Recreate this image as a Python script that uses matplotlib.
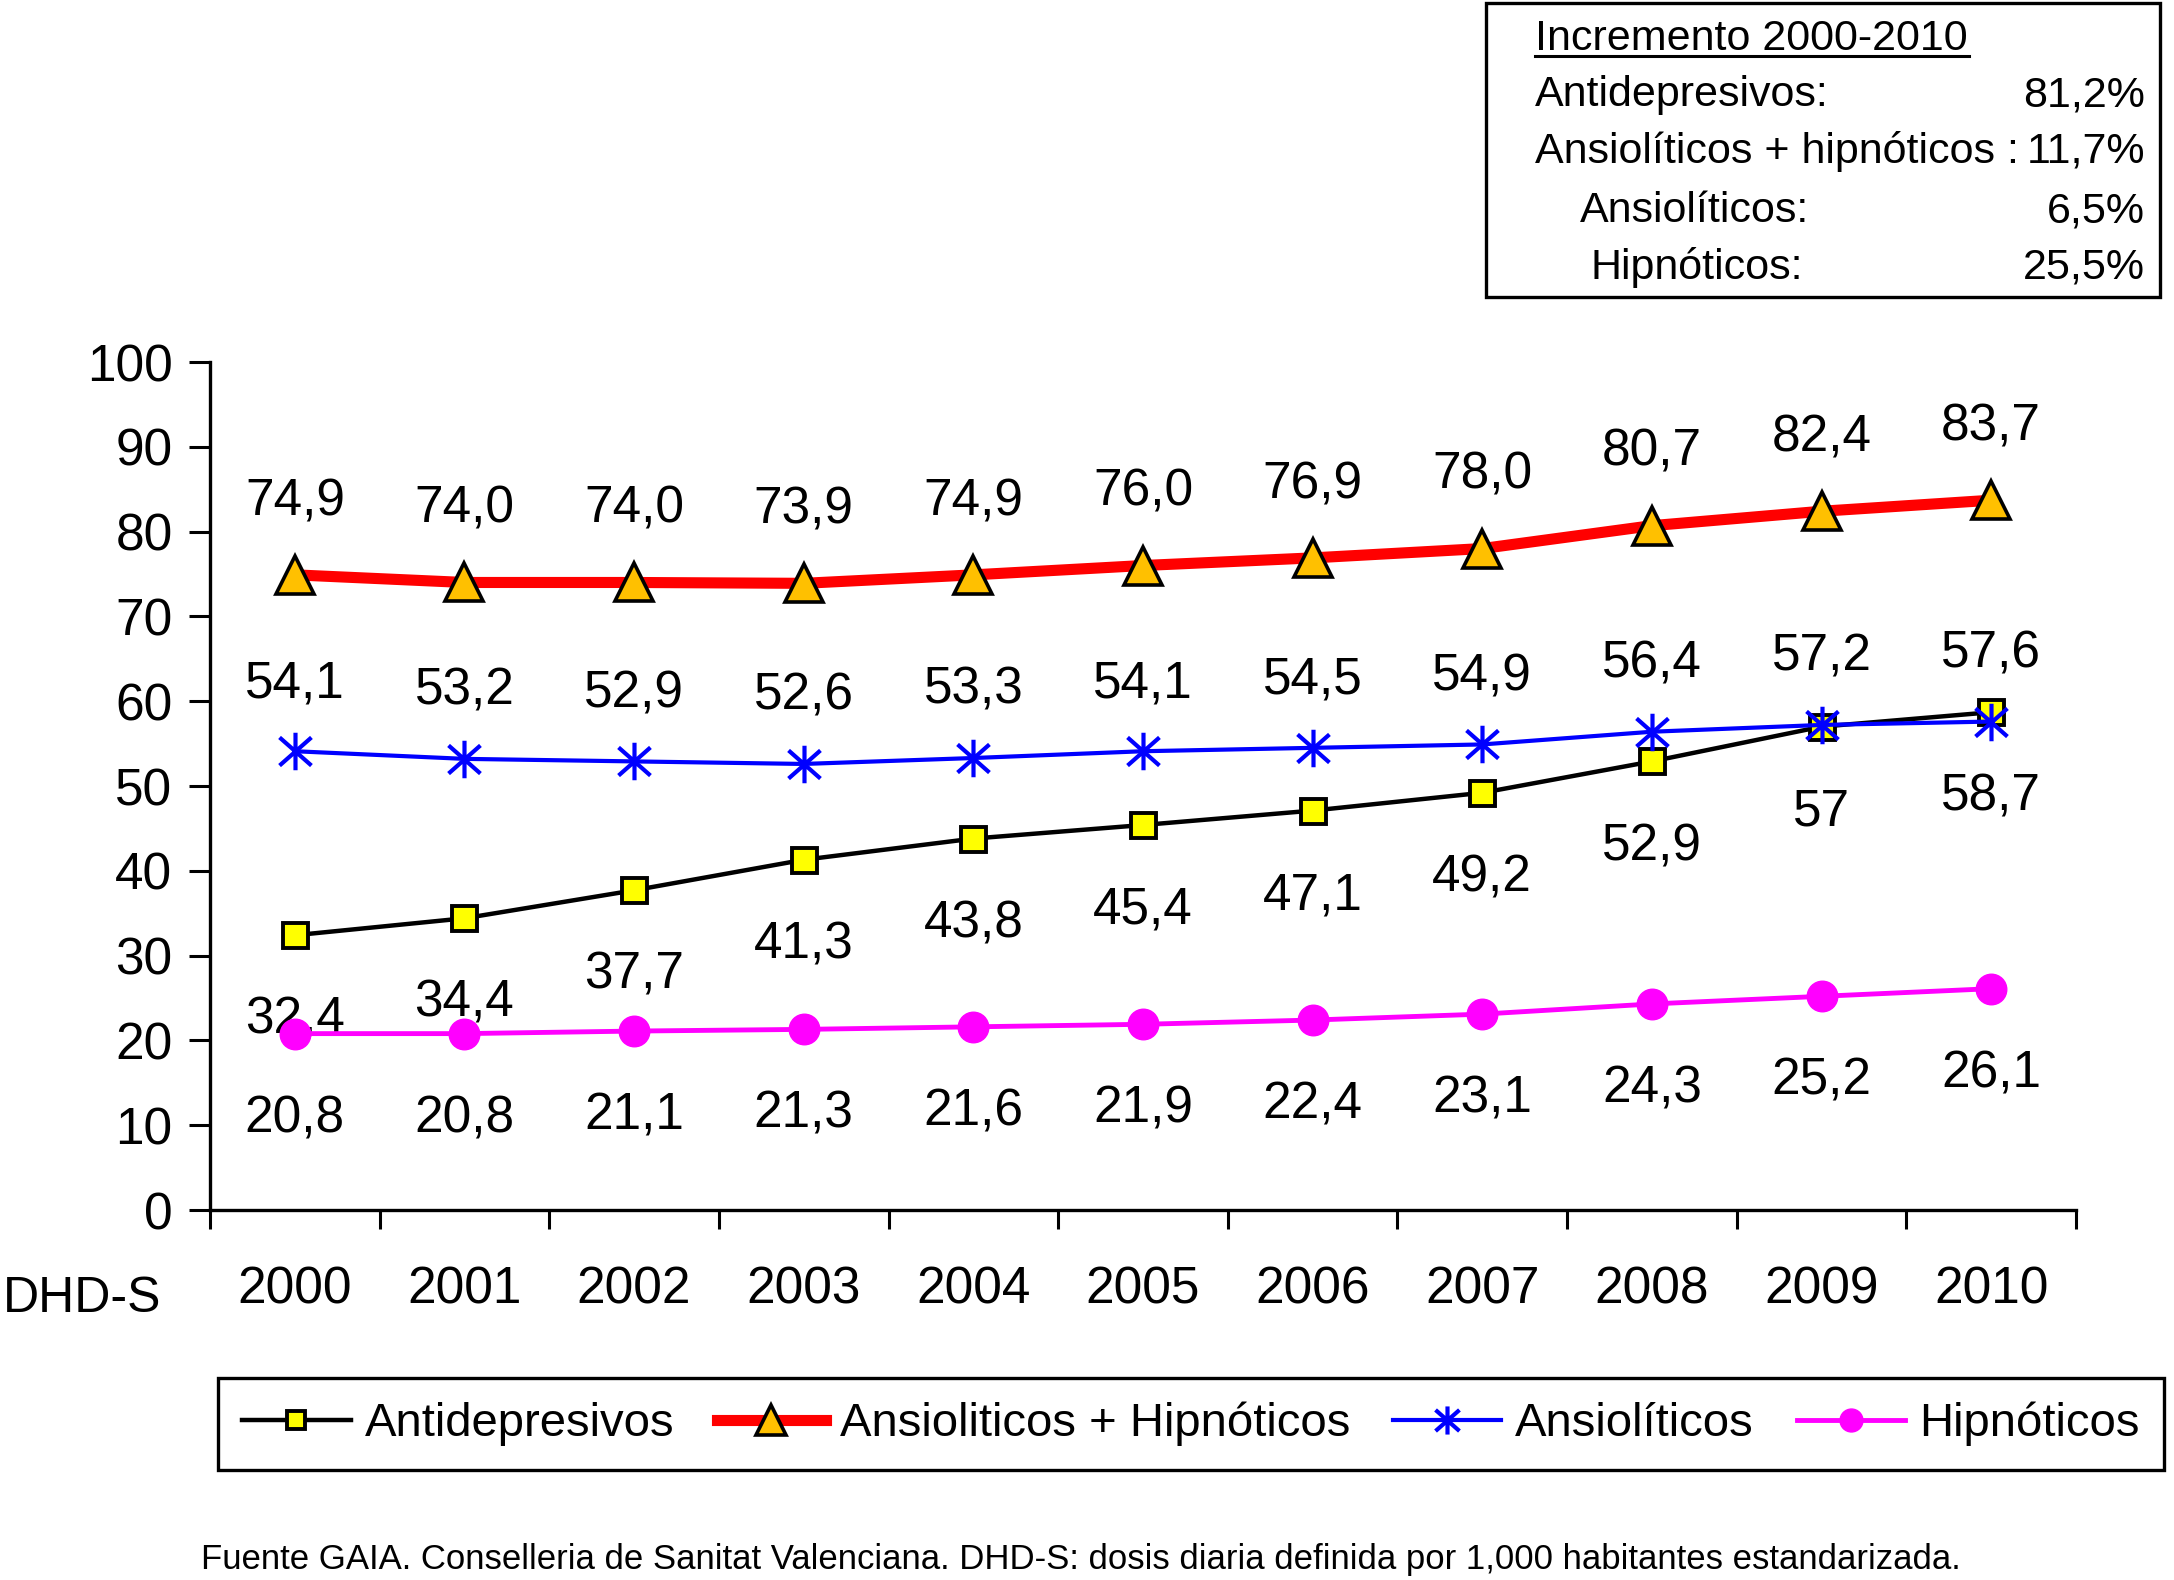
import numpy as np
import matplotlib
matplotlib.use("Agg")
import matplotlib.pyplot as plt
from matplotlib.path import Path
from matplotlib.patches import Rectangle
from matplotlib.lines import Line2D

plt.rcParams['font.family'] = ['Liberation Sans', 'DejaVu Sans']

years = ['2000', '2001', '2002', '2003', '2004', '2005', '2006', '2007', '2008', '2009', '2010']
antidepresivos = [32.4, 34.4, 37.7, 41.3, 43.8, 45.4, 47.1, 49.2, 52.9, 57, 58.7]
ansio_hipn = [74.9, 74.0, 74.0, 73.9, 74.9, 76.0, 76.9, 78.0, 80.7, 82.4, 83.7]
ansioliticos = [54.1, 53.2, 52.9, 52.6, 53.3, 54.1, 54.5, 54.9, 56.4, 57.2, 57.6]
hipnoticos = [20.8, 20.8, 21.1, 21.3, 21.6, 21.9, 22.4, 23.1, 24.3, 25.2, 26.1]
series_names = ['Antidepresivos', 'Ansioliticos + Hipnóticos', 'Ansiolíticos', 'Hipnóticos']

incr_title = 'Incremento 2000-2010'
incr_labels = ['Antidepresivos:', 'Ansiolíticos + hipnóticos :', 'Ansiolíticos:', 'Hipnóticos:']
incr_values = ['81,2%', '11,7%', '6,5%', '25,5%']

footer = ('Fuente GAIA. Conselleria de Sanitat Valenciana. DHD-S: dosis diaria definida '
          'por 1,000 habitantes estandarizada.')

W, H = 2174, 1580
fig = plt.figure(figsize=(W / 100, H / 100), dpi=100)
ax = fig.add_axes([210 / W, 1 - 1210 / H, (2076 - 210) / W, (1210 - 362) / H])

x = np.arange(len(years))

ast = Path([(-0.85, -0.75), (0.85, 0.75), (-0.85, 0.75), (0.85, -0.75), (0, -1), (0, 1)],
           [Path.MOVETO, Path.LINETO, Path.MOVETO, Path.LINETO, Path.MOVETO, Path.LINETO])

ax.plot(x, antidepresivos, color='black', lw=3.2, marker='s', ms=18, mfc='#FFFF00',
        mec='black', mew=2.8, label=series_names[0], zorder=3)
ax.plot(x, ansio_hipn, color='#FF0000', lw=8, marker='^', ms=28, mfc='#FFC000',
        mec='black', mew=2.6, label=series_names[1], zorder=3)
ax.plot(x, ansioliticos, color='#0000FF', lw=3, marker=ast, ms=27, mec='#0000FF',
        mew=3, label=series_names[2], zorder=4)
ax.plot(x, hipnoticos, color='#FF00FF', lw=3.5, marker='o', ms=22, mfc='#FF00FF',
        mec='#FF00FF', label=series_names[3], zorder=4)

def fmt1(v):
    return f"{v:.1f}".replace('.', ',')

def fmtg(v):
    return f"{v:g}".replace('.', ',')

lab_fs = 37
for xi, v in zip(x, ansio_hipn):
    ax.annotate(fmt1(v), (xi, v), xytext=(0, 43), textcoords='offset points',
                ha='center', va='baseline', fontsize=lab_fs)
for xi, v in zip(x, ansioliticos):
    ax.annotate(fmt1(v), (xi, v), xytext=(0, 39), textcoords='offset points',
                ha='center', va='baseline', fontsize=lab_fs)
for xi, v in zip(x, antidepresivos):
    ax.annotate(fmtg(v), (xi, v), xytext=(0, -71), textcoords='offset points',
                ha='center', va='baseline', fontsize=lab_fs)
for xi, v in zip(x, hipnoticos):
    ax.annotate(fmt1(v), (xi, v), xytext=(0, -71), textcoords='offset points',
                ha='center', va='baseline', fontsize=lab_fs)

ax.set_xlim(-0.5, len(years) - 0.5)
ax.set_ylim(0, 100)
ax.set_yticks(np.arange(0, 101, 10))
ax.set_xticks(x, years)
ax.set_xticks(np.arange(-0.5, len(years), 1), minor=True)
ax.tick_params(axis='y', which='major', length=15, width=2.2, direction='out',
               labelsize=37, pad=12)
ax.tick_params(axis='x', which='major', length=0, labelsize=37, pad=40)
ax.tick_params(axis='x', which='minor', length=14, width=2.2, direction='out')
for s in ['top', 'right']:
    ax.spines[s].set_visible(False)
for s in ['left', 'bottom']:
    ax.spines[s].set_linewidth(2.4)
    ax.spines[s].set_capstyle('projecting')

fig.text(3 / W, 1 - 1312 / H, 'DHD-S', fontsize=36, ha='left', va='baseline')

# Increment box
fig.patches.append(Rectangle((1486 / W, 1 - 297 / H), (2160 - 1486) / W, (297 - 3) / H,
                             transform=fig.transFigure, fill=False, ec='black', lw=2.4))
box_fs = 31
fig.text(1535 / W, 1 - 50 / H, incr_title, fontsize=box_fs, ha='left', va='baseline')
fig.add_artist(Line2D([1535 / W, 1969 / W], [1 - 56 / H, 1 - 56 / H], color='black', lw=2.2,
                      transform=fig.transFigure))
row_base = [106, 163, 222, 279]
row_left = [1535, 1535, 1580, 1591]
for lbl, val, yb, xl in zip(incr_labels, incr_values, row_base, row_left):
    fig.text(xl / W, 1 - yb / H, lbl, fontsize=box_fs, ha='left', va='baseline')
    fig.text(2145 / W, 1 - yb / H, val, fontsize=box_fs, ha='right', va='baseline')

# Legend
leg = fig.legend(*ax.get_legend_handles_labels(), loc='center',
                 bbox_to_anchor=(1191 / W, 1 - 1424 / H), ncol=4, fontsize=34,
                 frameon=True, fancybox=False, edgecolor='black', framealpha=1,
                 handlelength=2.3, handletextpad=0.3, columnspacing=0.9,
                 markerscale=0.75, borderpad=0.5)
leg.get_frame().set_linewidth(2.4)

fig.text(201 / W, 1 - 1560 / H, footer, fontsize=25, ha='left', va='center')

fig.savefig('out.png', dpi=100)
